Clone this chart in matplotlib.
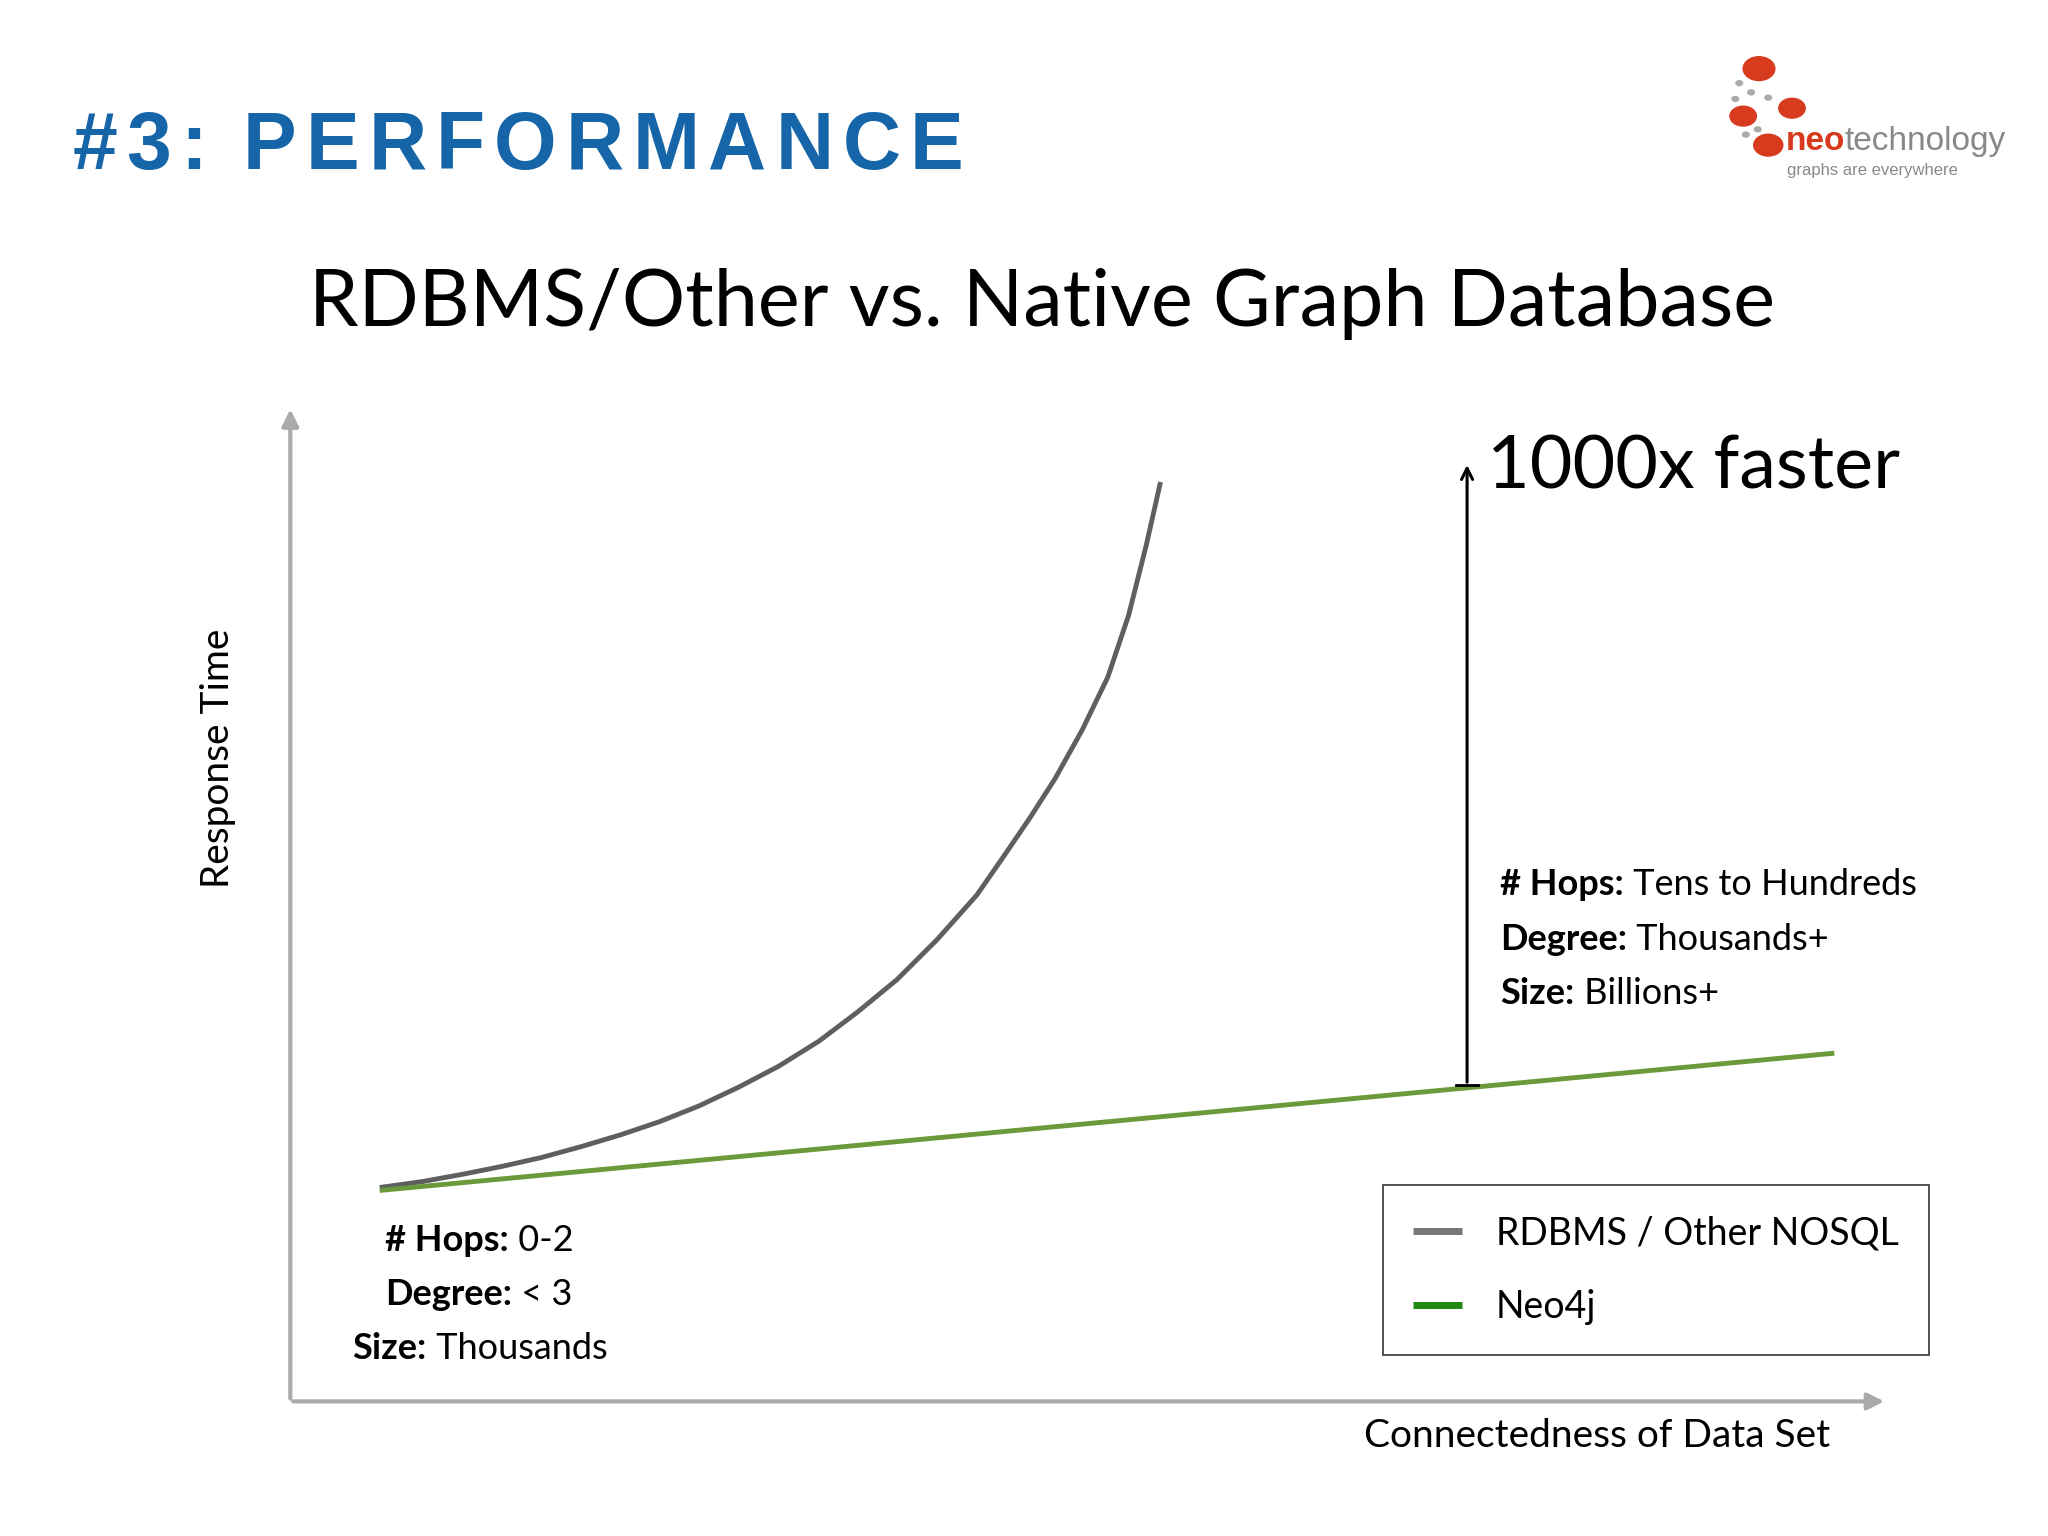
import matplotlib
matplotlib.use("Agg")
import matplotlib.pyplot as plt
from matplotlib.patches import Circle

# data (connectedness 0-100, response time 0-100)
rdbms_x = [5.6, 8.3, 10.7, 13.2, 15.7, 18.2, 20.7, 23.1, 25.6, 28.1, 30.6, 33.1, 35.5, 38.0,
           40.5, 43.0, 44.6, 46.3, 47.9, 49.6, 51.2, 52.5, 53.6, 54.5]
rdbms_y = [21.5, 22.1, 22.8, 23.6, 24.5, 25.6, 26.8, 28.1, 29.7, 31.6, 33.7, 36.2, 39.1, 42.4,
           46.4, 50.9, 54.6, 58.6, 62.6, 67.5, 72.8, 79.0, 86.0, 92.4]
neo_x = [5.6, 96.7]
neo_y = [21.2, 35.0]
arrow_x = 73.7
arrow_y = [31.8, 94.4]

W, H = 1552, 1164
def fx(px): return px / W
def fy(py): return 1 - py / H

fig = plt.figure(figsize=(20.48, 15.36), dpi=100)
fig.patch.set_facecolor("white")
ax = fig.add_axes([fx(220), fy(1062), fx(1430) - fx(220), fy(308) - fy(1062)])
ax.set_xlim(0, 100); ax.set_ylim(0, 100)
ax.axis("off")

ax.annotate("", xy=(100, 0), xytext=(0, 0), arrowprops=dict(arrowstyle="-|>", color="#aaaaaa", lw=3, mutation_scale=25))
ax.annotate("", xy=(0, 100), xytext=(0, 0), arrowprops=dict(arrowstyle="-|>", color="#aaaaaa", lw=3, mutation_scale=25))

ax.plot(rdbms_x, rdbms_y, color="#5f5f5f", lw=3.5, solid_capstyle="butt", label="RDBMS / Other NOSQL")
ax.plot(neo_x, neo_y, color="#6a9a3a", lw=3.5, solid_capstyle="butt", label="Neo4j")

ax.annotate("", xy=(arrow_x, arrow_y[1]), xytext=(arrow_x, arrow_y[0]),
            arrowprops=dict(arrowstyle="->", color="black", lw=2.2, mutation_scale=20))
ax.plot([arrow_x - 0.7, arrow_x + 0.7], [arrow_y[0], arrow_y[0]], color="black", lw=2)

F = "Lato"
title = "#3: PERFORMANCE"
fig.canvas.draw()
r = fig.canvas.get_renderer()
x = 55 / W * fig.bbox.width
for ch in title:
    t = fig.text(x / fig.bbox.width, fy(112), ch, color="#1565a8", fontsize=58, fontweight="bold",
                 family="Liberation Sans", va="center", ha="left")
    w = t.get_window_extent(r).width if ch != " " else 18
    x += w + 9

fig.text(fx(790), fy(230), "RDBMS/Other vs. Native Graph Database", fontsize=57, family=F,
         ha="center", va="center")
fig.text(fx(1127), fy(355), "1000x faster", fontsize=53, family=F, ha="left", va="center")
fig.text(fx(165), fy(575), "Response Time", fontsize=28, family=F,
         rotation=90, ha="center", va="center")
fig.text(fx(1387), fy(1088), "Connectedness of Data Set", fontsize=28, family=F,
         ha="right", va="center")

def mixed(x, y, b, n):
    t = fig.text(fx(x), fy(y), b, fontsize=26, fontweight="bold", family=F, ha="left", va="center")
    fig.canvas.draw()
    ax.annotate(" " + n, xy=(1, 0.5), xycoords=t, fontsize=26, family=F, ha="left", va="center")

mixed(1137, 670, "# Hops:", "Tens to Hundreds")
mixed(1137, 712, "Degree:", "Thousands+")
mixed(1137, 753, "Size:", "Billions+")
mixed(292, 940, "# Hops:", "0-2")
mixed(292, 981, "Degree:", "< 3")
mixed(267, 1022, "Size:", "Thousands")

leg = ax.legend(loc="upper left", bbox_to_anchor=((1034 - 220) / 1210, (1062 - 884) / 754),
                frameon=True, fancybox=False, edgecolor="black", prop={"family": F, "size": 27},
                handlelength=1.3, borderpad=0.8, labelspacing=1.0, handletextpad=0.9)
leg.get_frame().set_linewidth(1.2)
leg.legend_handles[1].set_color("#1e8a12")
leg.legend_handles[0].set_color("#777777")
for h in leg.legend_handles:
    h.set_linewidth(5)

# logo
for (cx, cy, r_) in [(1333, 52, 12), (1358, 82, 10), (1321, 88, 10), (1340, 110, 11)]:
    fig.patches.append(Circle((fx(cx), fy(cy)), r_ / W, transform=fig.transFigure,
                              color="#d83a1e", zorder=5))
for (cx, cy) in [(1318, 63), (1327, 70), (1315, 75), (1340, 74), (1332, 98), (1323, 102)]:
    fig.patches.append(Circle((fx(cx), fy(cy)), 2.5 / W, transform=fig.transFigure,
                              color="#aaaaaa", zorder=5))
t = fig.text(fx(1353), fy(107), "neo", color="#d83a1e", fontsize=24, fontweight="bold",
             family="Liberation Sans", ha="left", va="center")
fig.canvas.draw()
ax.annotate("technology", xy=(1, 0.5), xycoords=t, color="#888888", fontsize=24,
            family="Liberation Sans", ha="left", va="center")
fig.text(fx(1354), fy(129), "graphs are everywhere", color="#888888", fontsize=12,
         family="Liberation Sans", ha="left", va="center")

fig.savefig("out.png", dpi=100, facecolor="white")
